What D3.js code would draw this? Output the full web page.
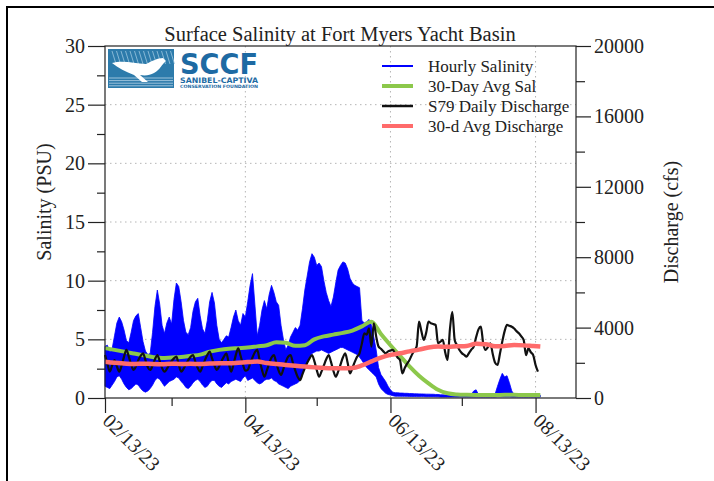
<!DOCTYPE html>
<html>
 <head>
   <title>Surface Salinity at Fort Myers Yacht Basin</title>
   <script type="text/javascript" src="https://cdn.jsdelivr.net/npm/d3@7/dist/d3.min.js"></script>
   <style type="text/css">
		body { margin: 0; background: #fff; }
		svg { display: block; }
		text { font-family: 'Liberation Serif', 'Times New Roman', serif; fill: #222; }
		.axis path { display: none; }
		.axis line { stroke: #222; stroke-width: 1.2; }
		.axis text { font-size: 20px; fill: #222; }
		.grid line { stroke: #b5b5b5; stroke-width: 1; stroke-dasharray: 1.5,3.5; }
		.logo text { font-family: 'DejaVu Sans', 'Open Sans', sans-serif; font-weight: bold; fill: #1d6aa3; }
   </style>
 </head>
 <body>
   <script type="text/javascript">

	// days counted from 02/13/23
	var startDate = '02/13/23', endDate = '08/30/23';
	var majorTicks = ['02/13/23', '04/13/23', '06/13/23', '08/13/23'];
	var minorTicks = ['03/13/23', '05/13/23', '07/13/23'];
	var salTicks = [0, 5, 10, 15, 20, 25, 30];
	var salMinorTicks = [2.5, 7.5, 12.5, 17.5, 22.5, 27.5];
	var qTicks = [0, 4000, 8000, 12000, 16000, 20000];
	var qMinorTicks = [2000, 6000, 10000, 14000, 18000];

	// hourly salinity, daily high / low of the record (PSU)
	var salMax = [4.4,4.5,3.9,4.2,5.3,6.4,6.9,6.5,5.8,4.9,
		4.7,5.6,6.6,7.0,7.2,6.0,4.8,4.0,3.7,3.8,
		5.6,7.8,9.2,8.0,6.2,5.5,6.4,6.9,6.3,8.4,
		9.8,9.5,8.2,6.6,5.6,5.4,6.0,7.4,8.2,8.5,
		7.0,5.9,5.5,6.6,8.2,9.0,8.1,6.2,5.0,4.7,
		5.0,5.3,5.2,6.0,6.9,7.5,6.6,6.2,7.2,6.9,
		8.2,9.6,10.6,8.0,5.3,6.2,7.5,8.3,7.6,8.8,
		9.6,9.0,8.2,7.9,6.2,5.0,4.1,4.5,5.2,5.6,
		6.0,5.8,6.2,7.6,9.2,10.4,11.6,12.3,12.0,11.3,
		11.5,11.2,10.0,9.0,8.3,7.8,8.6,9.8,10.9,11.3,
		11.6,11.5,11.0,10.2,9.8,9.6,9.5,9.4,6.6,6.4,
		6.5,6.7,6.2,5.2,4.1,2.6,2.0,1.7,1.4,1.0,
		0.7,0.5,0.45,0.45,0.42,0.42,0.4,0.4,0.38,0.38,
		0.36,0.36,0.35,0.35,0.34,0.33,0.33,0.32,0.32,0.3,
		0.3,0.27,0.27,0.26,0.26,0.26,0.25,0.26,0.26,0.25,
		0.26,0.25,0.25,0.26,0.3,0.6,0.7,0.3,0.25,0.25,
		0.25,0.26,0.25,0.26,0.35,1.0,1.6,2.1,1.8,1.9,
		1.3,0.6,0.3,0.25,0.25,0.26,0.25,0.25,0.26,0.25,
		0.25,0.25,0.24,0.24];
	var salMin = [1.0,0.9,0.8,1.1,1.4,1.8,1.9,1.6,1.2,0.9,
		0.7,0.8,1.0,1.2,1.1,0.8,0.6,0.5,0.6,0.8,
		1.1,1.5,1.7,1.6,1.3,1.0,1.2,1.4,1.5,1.6,
		1.8,1.7,1.4,1.2,0.9,0.8,1.0,1.3,1.5,1.6,
		1.4,1.1,0.9,1.0,1.3,1.5,1.5,1.2,1.0,0.9,
		1.1,1.3,1.2,1.4,1.5,1.6,1.5,1.4,1.7,1.9,
		1.5,1.6,1.7,1.5,1.3,1.2,1.3,1.5,1.6,1.6,
		1.7,1.5,1.4,1.2,1.1,1.0,0.9,0.8,1.0,1.1,
		1.2,1.3,1.5,2.0,2.6,3.1,3.5,3.8,3.9,4.0,
		4.0,4.1,4.0,3.9,3.8,3.9,4.0,4.1,4.2,4.3,
		4.3,4.2,4.1,4.0,3.9,3.8,3.7,3.5,3.2,2.9,
		2.6,2.4,2.2,2.0,1.8,1.2,0.8,0.6,0.4,0.3,
		0.25,0.2,0.15,0.15,0.15,0.14,0.14,0.14,0.13,0.13,
		0.13,0.12,0.12,0.12,0.12,0.11,0.11,0.11,0.11,0.1,
		0.1,0.08,0.08,0.08,0.08,0.08,0.08,0.08,0.08,0.08,
		0.08,0.08,0.08,0.08,0.08,0.08,0.08,0.08,0.08,0.08,
		0.08,0.08,0.08,0.08,0.08,0.1,0.1,0.1,0.1,0.1,
		0.1,0.08,0.08,0.08,0.08,0.08,0.08,0.08,0.08,0.08,
		0.08,0.08,0.08,0.08];

	// S79 daily discharge (cfs)
	var dailyQ = [2440,1950,1500,1850,2160,1800,1500,1850,2350,2730,
		2350,1900,1590,1800,2150,2400,2540,2150,1750,1590,
		1850,2200,2440,2100,1700,1500,1650,1900,2100,2250,
		2350,1900,1500,1650,1900,2150,2350,2440,2050,1700,
		1500,1800,2150,2450,2630,2250,1850,1590,1800,2100,
		2350,2540,2000,1500,1900,2450,2820,2400,1900,1550,
		1600,1950,2300,2600,2730,2150,1600,1210,1550,1950,
		2300,2440,2000,1550,1310,1650,2050,2350,2440,2000,
		1550,1200,1020,1350,1700,2000,2250,2440,2100,1600,
		1210,1500,1850,2200,2440,2050,1550,1210,1500,1900,
		2300,2540,2000,1400,1700,2050,2350,2540,3100,3675,
		3600,3960,2920,4240,3500,2920,2800,2650,2540,2650,
		2700,2730,2500,2300,2160,1400,1700,1950,2160,2450,
		2700,2920,4340,3800,3300,3700,4340,4250,4200,4150,
		3110,3200,3300,2600,2160,3900,4900,3300,3000,2730,
		2550,2450,2350,2550,2750,2920,3450,3900,4050,3100,
		2730,2900,3110,2500,2000,1875,2500,3200,3800,4150,
		4100,4050,3950,3800,3675,3500,3300,2440,2820,2600,
		2440,1875,1500];

	// 30-day averages, read every 4 days
	var avgDays = [0,4,8,12,16,20,24,28,32,36,40,44,48,52,56,60,64,68,72,76,
		80,84,88,92,96,100,104,108,112,116,120,124,128,132,136,140,144,148,152,156,
		160,164,168,172,176,180,183];
	var avgSal = [4.25,4.1,3.95,3.8,3.65,3.5,3.4,3.45,3.5,3.6,
		3.7,3.95,4.1,4.2,4.25,4.3,4.4,4.5,4.75,4.7,
		4.45,4.5,5.0,5.25,5.4,5.55,5.75,6.1,6.5,5.45,
		4.5,3.6,2.7,1.9,1.25,0.7,0.4,0.3,0.27,0.26,
		0.26,0.26,0.27,0.27,0.26,0.26,0.26];
	var avgQ = [2060,2000,1960,1930,1950,1930,1920,1950,1930,1940,
		1930,1960,1980,1970,2000,2040,2070,1990,1930,1880,
		1830,1790,1740,1700,1690,1690,1700,1850,2080,2300,
		2450,2540,2650,2750,2870,2920,2910,2940,2960,3080,
		3060,2940,2960,3010,2990,2950,2920];

	var legendNames = ['Hourly Salinity', '30-Day Avg Sal', 'S79 Daily Discharge', '30-d Avg Discharge'];
	var legendColors = ['#0000ff', '#8cc84b', '#111111', '#ff6b6b'];
	var legendWidths = [2, 4, 2.5, 4];

	var W = 714, H = 481;
	var plotL = 105, plotR = 576, plotT = 46, plotB = 398;
	var parse = d3.utcParse('%m/%d/%y');
	var t0 = parse(startDate);
	function day(i) { return d3.utcDay.offset(t0, i); }

	var x = d3.scaleUtc().domain([t0, parse(endDate)]).range([plotL, plotR]);
	var ySal = d3.scaleLinear().domain([0, 30]).range([plotB, plotT]);
	var yQ = d3.scaleLinear().domain([0, 20000]).range([plotB, plotT]);

	var svg = d3.select('body').append('svg')
		.attr('width', W)
		.attr('height', H);

	// outer frame (top and left edges show)
	svg.append('path')
		.attr('d', 'M7,' + H + 'V7H' + W)
		.attr('fill', 'none')
		.attr('stroke', '#000')
		.attr('stroke-width', 2);

	// grid
	var grid = svg.append('g').attr('class', 'grid');
	grid.selectAll('line.h').data(salTicks.slice(1, -1))
		.enter().append('line')
		.attr('class', 'h')
		.attr('x1', plotL).attr('x2', plotR)
		.attr('y1', function(d) { return ySal(d) })
		.attr('y2', function(d) { return ySal(d) });
	grid.selectAll('line.v').data(majorTicks.slice(1))
		.enter().append('line')
		.attr('class', 'v')
		.attr('y1', plotT).attr('y2', plotB)
		.attr('x1', function(d) { return x(parse(d)) })
		.attr('x2', function(d) { return x(parse(d)) });

	// logo
	var logo = svg.append('g').attr('class', 'logo');
	logo.append('rect')
		.attr('x', 108).attr('y', 49).attr('width', 66).attr('height', 39)
		.attr('fill', '#2d7bab');
	for (var i = 0; i < 14; i++) {
		logo.append('line')
			.attr('x1', 112 + i * 4.5).attr('y1', 51)
			.attr('x2', 116 + i * 4.5).attr('y2', 64)
			.attr('stroke', '#9cc6e0').attr('stroke-width', 0.8);
	}
	for (var j = 0; j < 4; j++) {
		logo.append('line')
			.attr('x1', 109).attr('x2', 173)
			.attr('y1', 78 + j * 2.6).attr('y2', 78 + j * 2.6)
			.attr('stroke', '#cfe3f0').attr('stroke-width', 0.7);
	}
	logo.append('path')
		.attr('d', 'M112,63 C122,60 134,63 146,64 C152,61 158,58 163,58 L166,61 C162,64 160,70 154,73 C150,75 146,76 140,75 L148,82 L142,82 L134,75 C126,72 118,68 112,63 Z')
		.attr('fill', '#fff');
	logo.append('text')
		.attr('x', 180).attr('y', 74)
		.attr('textLength', 78).attr('lengthAdjust', 'spacingAndGlyphs')
		.style('font-size', '29px')
		.text('SCCF');
	logo.append('text')
		.attr('x', 180).attr('y', 82.5)
		.attr('textLength', 78).attr('lengthAdjust', 'spacingAndGlyphs')
		.style('font-size', '7.5px')
		.text('SANIBEL-CAPTIVA');
	logo.append('text')
		.attr('x', 180).attr('y', 88)
		.attr('textLength', 78).attr('lengthAdjust', 'spacingAndGlyphs')
		.style('font-size', '4.5px')
		.text('CONSERVATION FOUNDATION');

	// series
	var days = salMax.map(function(d, i) { return i });

	svg.append('path')
		.datum(days)
		.attr('fill', '#0000ff')
		.attr('stroke', '#0000ff')
		.attr('stroke-width', 0.8)
		.attr('d', d3.area()
			.x(function(i) { return x(day(i)) })
			.y0(function(i) { return ySal(salMin[i]) })
			.y1(function(i) { return ySal(salMax[i]) }));

	svg.append('path')
		.datum(avgDays)
		.attr('fill', 'none')
		.attr('stroke', legendColors[1])
		.attr('stroke-width', 4)
		.attr('d', d3.line()
			.curve(d3.curveMonotoneX)
			.x(function(d) { return x(day(d)) })
			.y(function(d, i) { return ySal(avgSal[i]) }));

	svg.append('path')
		.datum(dailyQ)
		.attr('fill', 'none')
		.attr('stroke', legendColors[2])
		.attr('stroke-width', 2.2)
		.attr('stroke-linejoin', 'round')
		.attr('d', d3.line()
			.curve(d3.curveMonotoneX)
			.x(function(d, i) { return x(day(i)) })
			.y(function(d) { return yQ(d) }));

	svg.append('path')
		.datum(avgDays)
		.attr('fill', 'none')
		.attr('stroke', legendColors[3])
		.attr('stroke-width', 4.5)
		.attr('d', d3.line()
			.curve(d3.curveMonotoneX)
			.x(function(d) { return x(day(d)) })
			.y(function(d, i) { return yQ(avgQ[i]) }));

	// plot box
	svg.append('rect')
		.attr('x', plotL).attr('y', plotT)
		.attr('width', plotR - plotL).attr('height', plotB - plotT)
		.attr('fill', 'none')
		.attr('stroke', '#222')
		.attr('stroke-width', 1.2);

	// axes
	svg.append('g').attr('class', 'axis')
		.attr('transform', 'translate(' + plotL + ',0)')
		.call(d3.axisLeft(ySal).tickValues(salTicks).tickSize(17).tickPadding(3));
	svg.append('g').attr('class', 'axis')
		.attr('transform', 'translate(' + plotL + ',0)')
		.call(d3.axisLeft(ySal).tickValues(salMinorTicks).tickSize(8).tickFormat(''));

	svg.append('g').attr('class', 'axis')
		.attr('transform', 'translate(' + plotR + ',0)')
		.call(d3.axisRight(yQ).tickValues(qTicks).tickSize(15).tickPadding(3).tickFormat(d3.format('d')));
	svg.append('g').attr('class', 'axis')
		.attr('transform', 'translate(' + plotR + ',0)')
		.call(d3.axisRight(yQ).tickValues(qMinorTicks).tickSize(9).tickFormat(''));

	var xAxis = svg.append('g').attr('class', 'axis')
		.attr('transform', 'translate(0,' + plotB + ')')
		.call(d3.axisBottom(x).tickValues(majorTicks.map(parse)).tickSize(15).tickFormat(d3.utcFormat('%m/%d/%y')));
	xAxis.selectAll('text')
		.attr('text-anchor', 'start')
		.attr('transform', 'translate(1,19) rotate(45)')
		.attr('x', 0).attr('y', 0).attr('dy', '0.35em');
	svg.append('g').attr('class', 'axis')
		.attr('transform', 'translate(0,' + plotB + ')')
		.call(d3.axisBottom(x).tickValues(minorTicks.map(parse)).tickSize(8).tickFormat(''));

	// titles
	svg.append('text')
		.attr('x', 340).attr('y', 41)
		.attr('text-anchor', 'middle')
		.style('font-size', '20.5px')
		.text('Surface Salinity at Fort Myers Yacht Basin');
	svg.append('text')
		.attr('transform', 'translate(51,202) rotate(-90)')
		.attr('text-anchor', 'middle')
		.style('font-size', '20px')
		.text('Salinity (PSU)');
	svg.append('text')
		.attr('transform', 'translate(678,222) rotate(-90)')
		.attr('text-anchor', 'middle')
		.style('font-size', '20px')
		.text('Discharge (cfs)');

	// legend
	var legend = svg.append('g')
		.selectAll('g').data(legendNames)
		.enter().append('g')
		.attr('transform', function(d, i) { return 'translate(382,' + (66 + i * 20) + ')' });
	legend.append('line')
		.attr('x1', 0).attr('x2', 31)
		.attr('stroke', function(d, i) { return legendColors[i] })
		.attr('stroke-width', function(d, i) { return legendWidths[i] });
	legend.append('text')
		.attr('x', 46).attr('y', 6)
		.style('font-size', '17px')
		.text(function(d) { return d });

    </script>
 </body>
</html>
